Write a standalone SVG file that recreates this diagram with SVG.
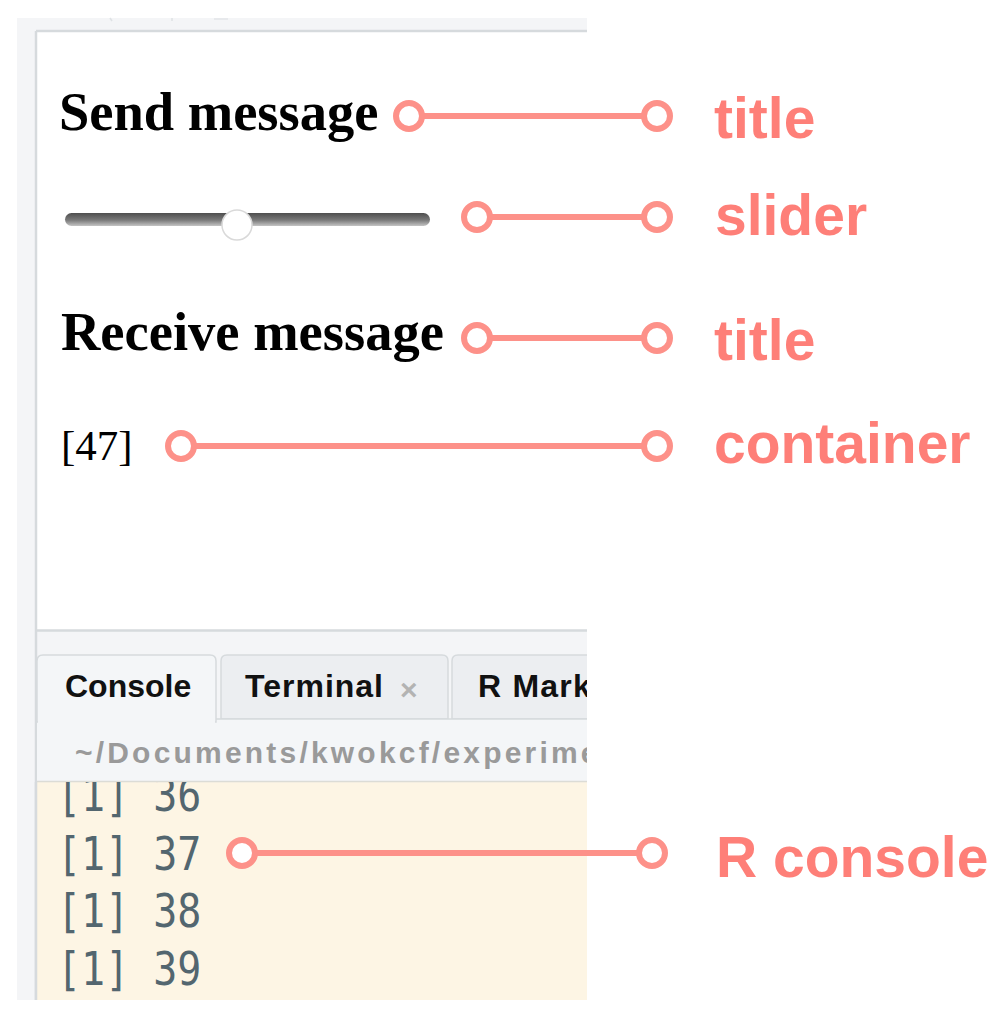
<svg xmlns="http://www.w3.org/2000/svg" width="1002" height="1022" viewBox="0 0 1002 1022">
<defs>
<style>
.ui-title{font-family:"Liberation Serif","Times New Roman",serif;font-weight:bold;font-size:54.5px;fill:#000}
.tab{font-family:"Liberation Sans",Arial,sans-serif;font-weight:bold;font-size:32px;fill:#111}
.path{font-family:"Liberation Sans",Arial,sans-serif;font-weight:bold;font-size:30px;fill:#9a9a9a;letter-spacing:3.2px}
.con{font-family:"DejaVu Sans Mono","Liberation Mono",monospace;font-size:40px;fill:#53666f}
.lbl{font-family:"Liberation Sans",Arial,sans-serif;font-weight:bold;font-size:57px;fill:#fe7f78}
.conn line{stroke:#fd9189;stroke-width:6}
.conn circle{fill:#fff;stroke:#fd9189;stroke-width:6}
</style>
<linearGradient id="track" x1="0" y1="0" x2="0" y2="1">
<stop offset="0" stop-color="#4e4e4e"/>
<stop offset="0.55" stop-color="#7a7a7a"/>
<stop offset="1" stop-color="#c4c4c4"/>
</linearGradient>
<clipPath id="panel"><rect x="0" y="0" width="587" height="1022"/></clipPath>
<clipPath id="console"><rect x="37" y="782" width="550" height="218"/></clipPath>
</defs>
<rect x="0" y="0" width="1002" height="1022" fill="#fff"/>
<g id="screenshot" clip-path="url(#panel)">
<rect x="17" y="18" width="600" height="982" fill="#f4f5f7"/>
<line x1="110" y1="18" x2="112" y2="21" stroke="#dfe2e5" stroke-width="1.5"/>
<line x1="172" y1="18" x2="172" y2="21" stroke="#dfe2e5" stroke-width="1.5"/>
<line x1="214" y1="19" x2="228" y2="19" stroke="#e3e5e8" stroke-width="1.5"/>
<rect x="37" y="32" width="560" height="598" fill="#fff"/>
<line x1="36" y1="31" x2="600" y2="31" stroke="#d6dadd" stroke-width="2.5"/>
<line x1="36" y1="31" x2="36" y2="1000" stroke="#d6dadd" stroke-width="2.5"/>
<line x1="36" y1="630.5" x2="600" y2="630.5" stroke="#d6dadd" stroke-width="2.5"/>
<path d="M221 719 V661 Q221 655 227 655 H442 Q448 655 448 661 V719 Z" fill="#eceef1" stroke="#d6dadd" stroke-width="1.5"/>
<path d="M452 719 V661 Q452 655 458 655 H620 V719 Z" fill="#eceef1" stroke="#d6dadd" stroke-width="1.5"/>
<rect x="37" y="719" width="570" height="62" fill="#f4f6f8"/>
<line x1="216" y1="719" x2="600" y2="719" stroke="#d6dadd" stroke-width="1.5"/>
<path d="M37 722 V661 Q37 655 43 655 H210 Q216 655 216 661 V722 Z" fill="#f4f6f8" stroke="#d6dadd" stroke-width="1.5"/>
<rect x="38" y="719" width="177" height="6" fill="#f4f6f8"/>
<text class="tab" x="65" y="697">Console</text>
<text class="tab" x="245" y="697" letter-spacing="1">Terminal</text>
<text x="400" y="700" font-family="Liberation Sans,Arial,sans-serif" font-weight="bold" font-size="30" fill="#b3b3b3">×</text>
<text class="tab" x="478" y="697" letter-spacing="1.2">R Markdown</text>
<text class="path" x="75" y="763">~/Documents/kwokcf/experiment</text>
<rect x="37" y="782" width="570" height="218" fill="#fdf5e4"/>
<line x1="37" y1="781.5" x2="600" y2="781.5" stroke="#dcdcd6" stroke-width="1.5"/>
<line x1="36" y1="782" x2="36" y2="1000" stroke="#d6dadd" stroke-width="2.5"/>
<g clip-path="url(#console)">
<text class="con" transform="translate(57,811) scale(1,1.14)">[1] 36</text>
<text class="con" transform="translate(57,870) scale(1,1.14)">[1] 37</text>
<text class="con" transform="translate(57,927) scale(1,1.14)">[1] 38</text>
<text class="con" transform="translate(57,985) scale(1,1.14)">[1] 39</text>
</g>
</g>
<g id="send-title"><text class="ui-title" x="59" y="130">Send message</text></g>
<g id="slider">
<rect x="65" y="213" width="365" height="13" rx="6.5" fill="url(#track)"/>
<circle cx="237" cy="225" r="15" fill="#fff" stroke="#d9d9d9" stroke-width="1.5"/>
</g>
<g id="receive-title"><text class="ui-title" x="61" y="350">Receive message</text></g>
<g id="container-value"><text x="61" y="460" font-family="Liberation Serif,Times New Roman,serif" font-size="43" fill="#000">[47]</text></g>
<g id="label-title-1"><text class="lbl" x="714" y="138">title</text></g>
<g id="label-slider"><text class="lbl" x="715" y="235">slider</text></g>
<g id="label-title-2"><text class="lbl" x="714" y="360">title</text></g>
<g id="label-container"><text class="lbl" x="714" y="463">container</text></g>
<g id="label-r-console"><text class="lbl" x="716" y="877">R console</text></g>
<g id="connectors" class="conn">
<line x1="409" y1="116" x2="657" y2="116"/>
<circle cx="409" cy="116" r="13"/><circle cx="657" cy="116" r="13"/>
<line x1="477" y1="217" x2="657" y2="217"/>
<circle cx="477" cy="217" r="13"/><circle cx="657" cy="217" r="13"/>
<line x1="477" y1="338" x2="657" y2="338"/>
<circle cx="477" cy="338" r="13"/><circle cx="657" cy="338" r="13"/>
<line x1="181" y1="446" x2="657" y2="446"/>
<circle cx="181" cy="446" r="13"/><circle cx="657" cy="446" r="13"/>
<line x1="242" y1="853" x2="652" y2="853"/>
<circle cx="242" cy="853" r="13"/><circle cx="652" cy="853" r="13"/>
</g>
</svg>
